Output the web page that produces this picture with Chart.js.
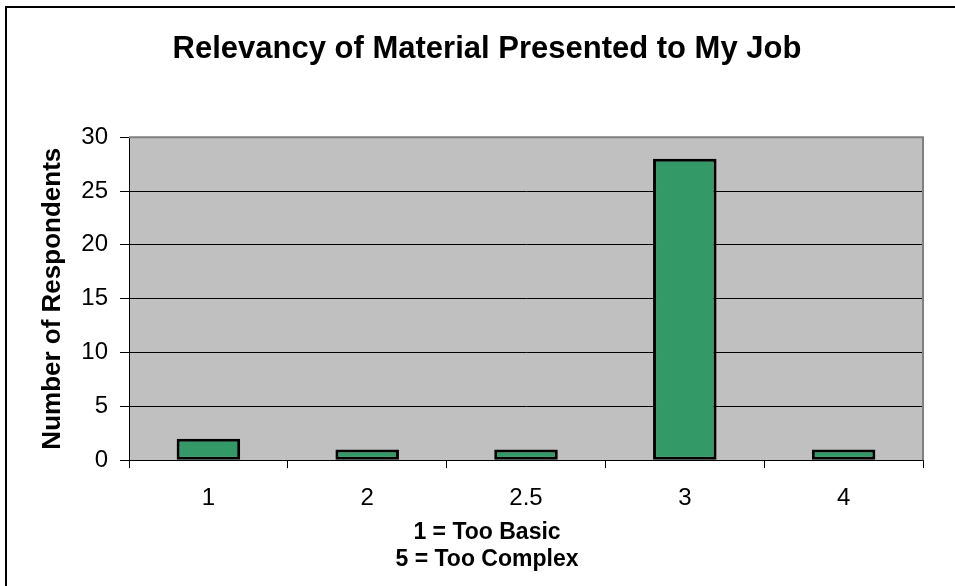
<!DOCTYPE html>
<html>
<head>
<meta charset="utf-8">
<script src="https://cdn.jsdelivr.net/npm/chart.js@4"></script>
<style>
  html, body { margin: 0; padding: 0; background: #fff; }
  canvas { display: block; }
</style>
</head>
<body>
<canvas id="relevancyChart" width="955" height="586"></canvas>
<script>
const categories = ["1", "2", "2.5", "3", "4"];
const respondents = [2, 1, 1, 28, 1];
const yTicks = [0, 5, 10, 15, 20, 25, 30];
const chartTitle = "Relevancy of Material Presented to My Job";
const yTitle = "Number of Respondents";
const xTitle = ["1 = Too Basic", "5 = Too Complex"];

const font = "'Liberation Sans', Arial, sans-serif";

// gray plot area + outer frame, like the old Excel chart
const frame = {
  id: "frame",
  beforeDraw(chart) {
    const ctx = chart.ctx;
    const a = chart.chartArea;
    ctx.save();
    ctx.fillStyle = "#fff";
    ctx.fillRect(0, 0, chart.width, chart.height);
    ctx.fillStyle = "#c0c0c0";
    ctx.fillRect(a.left, a.top, a.right - a.left, a.bottom - a.top);
    ctx.restore();
  },
  afterDraw(chart) {
    const ctx = chart.ctx;
    const a = chart.chartArea;
    ctx.save();
    ctx.strokeStyle = "#808080";
    ctx.lineWidth = 2;
    ctx.beginPath();
    ctx.moveTo(a.left, a.top);
    ctx.lineTo(a.right, a.top);
    ctx.lineTo(a.right, a.bottom);
    ctx.stroke();
    ctx.strokeStyle = "#000";
    ctx.lineWidth = 2;
    ctx.strokeRect(6, 7, 1100, 1100);
    ctx.restore();
  }
};

const ctx = document.getElementById("relevancyChart").getContext("2d");
new Chart(ctx, {
  type: "bar",
  data: {
    labels: categories,
    datasets: [{
      label: yTitle,
      data: respondents,
      backgroundColor: "#339966",
      borderColor: "#000",
      borderWidth: 3,
      borderSkipped: false,
      categoryPercentage: 0.4,
      barPercentage: 1
    }]
  },
  options: {
    responsive: false,
    animation: false,
    layout: { padding: { left: 51, right: 32, top: 0, bottom: 0 } },
    plugins: {
      legend: { display: false },
      tooltip: { enabled: false },
      title: {
        display: true,
        text: chartTitle,
        color: "#000",
        font: { family: font, size: 31, weight: "bold" },
        padding: { top: 31, bottom: 69 }
      },
      // x axis title, centred like the original (not over the plot)
      subtitle: {
        display: true,
        position: "bottom",
        text: xTitle,
        color: "#000",
        font: { family: font, size: 23, weight: "bold", lineHeight: 1.17 },
        padding: { top: 0, bottom: 12.5 }
      }
    },
    scales: {
      x: {
        afterFit: s => { s.height = 59.5; },
        grid: { offset: true, drawOnChartArea: false, drawTicks: true, tickLength: 8, color: "#000" },
        border: { color: "#000", width: 1 },
        ticks: {
          color: "#000",
          padding: 16,
          font: { family: font, size: 24 }
        }
      },
      y: {
        min: 0,
        max: 30,
        afterFit: s => { s.width = 78; },
        afterBuildTicks: s => { s.ticks = yTicks.map(v => ({ value: v })); },
        grid: {
          color: c => (c.tick && c.tick.value === 30 ? "rgba(0,0,0,0)" : "#000"),
          tickColor: "#000",
          lineWidth: 1,
          tickLength: 9
        },
        border: { color: "#000", width: 1 },
        ticks: {
          color: "#000",
          padding: 12,
          font: { family: font, size: 24 }
        },
        title: {
          display: true,
          text: yTitle,
          color: "#000",
          font: { family: font, size: 26, weight: "bold" },
          padding: { top: -14, bottom: 0 }
        }
      }
    }
  },
  plugins: [frame]
});
</script>
</body>
</html>
